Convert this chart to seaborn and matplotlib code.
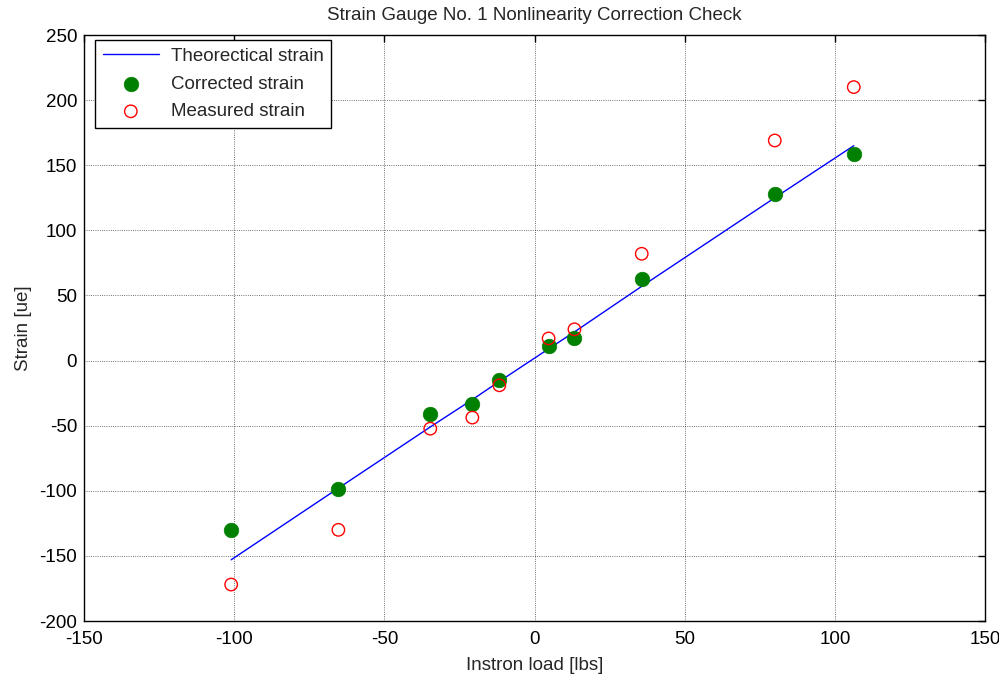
import matplotlib
matplotlib.use("Agg")
import matplotlib.pyplot as plt
import seaborn as sns
import pandas as pd

load = [-101.0, -65.3, -34.7, -20.7, -11.7, 4.7, 13.3, 35.7, 80.0, 106.3]
theoretical = [-153.0, -98.0, -51.0, -30.0, -16.0, 9.0, 22.0, 57.0, 125.0, 165.0]
corrected = [-130.0, -99.0, -40.8, -33.0, -14.6, 11.5, 17.7, 62.3, 127.7, 159.0]
measured = [-172.0, -130.0, -52.3, -43.8, -19.0, 17.0, 24.0, 82.0, 169.0, 210.0]

xticks = [-150, -100, -50, 0, 50, 100, 150]
yticks = [-200, -150, -100, -50, 0, 50, 100, 150, 200, 250]

df = pd.DataFrame({"load": load, "theo": theoretical, "corr": corrected, "meas": measured})

sns.set_style("white")
plt.rcParams['font.family'] = ['Liberation Sans', 'DejaVu Sans']
plt.rcParams['axes.unicode_minus'] = False
plt.rcParams['xtick.direction'] = 'in'
plt.rcParams['ytick.direction'] = 'in'

FS = 13.5

fig = plt.figure(figsize=(9.99, 6.79), dpi=100)
ax = fig.add_axes([84/999, 1 - 621/679, (985 - 84)/999, (621 - 35)/679])

sns.lineplot(data=df, x="load", y="theo", ax=ax, color="#0000ff", linewidth=1.0,
             label="Theorectical strain", sort=False)
sns.scatterplot(data=df, x="load", y="corr", ax=ax, color="#008000", s=110,
                edgecolor="#008000", linewidth=0.5, label="Corrected strain", zorder=3)
sns.scatterplot(data=df, x="load", y="meas", ax=ax, facecolor="none", s=80,
                edgecolor="#ff0000", linewidth=1.0, label="Measured strain", zorder=4)

ax.set_xlim(-150, 150)
ax.set_ylim(-200, 250)
ax.set_xticks(xticks)
ax.set_yticks(yticks)
ax.tick_params(axis='both', labelsize=FS, length=5, width=1, color='black',
               top=True, right=True, labelcolor='black')
ax.tick_params(axis='x', pad=7)
ax.tick_params(axis='y', pad=5)
ax.grid(True, color='black', linestyle=':', linewidth=0.6, alpha=0.75)
for sp in ax.spines.values():
    sp.set_visible(True)
    sp.set_color('black')
    sp.set_linewidth(1.0)

ax.set_xlabel("Instron load [lbs]", fontsize=FS, labelpad=7)
ax.set_ylabel("Strain [ue]", fontsize=FS, labelpad=5)
ax.set_title("Strain Gauge No. 1 Nonlinearity Correction Check", fontsize=FS, pad=11)

leg = ax.legend(loc="upper left", bbox_to_anchor=(0.012, 0.9915), fontsize=FS,
                frameon=True, fancybox=False, edgecolor='black', framealpha=1,
                borderpad=0.42, labelspacing=0.56, handlelength=3.0, handletextpad=0.62,
                borderaxespad=0)
leg.get_frame().set_linewidth(1.0)

fig.savefig("out.png", dpi=100)
